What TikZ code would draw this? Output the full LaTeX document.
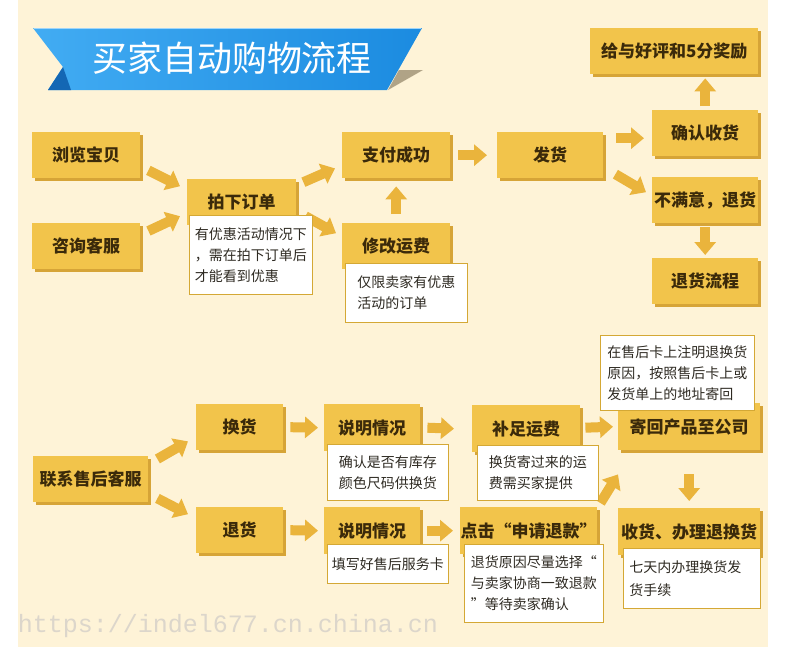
\documentclass[tikz,border=0pt]{standalone}
\usepackage{fontspec}
\newfontfamily\cjk{Noto Sans CJK SC}
\newfontfamily\wmfont{Liberation Mono}
\usetikzlibrary{arrows.meta,calc,shadows}
\definecolor{creamc}{HTML}{FEF3D7}
\definecolor{boxc}{HTML}{F2C44B}
\definecolor{shadc}{HTML}{D6A437}
\definecolor{arrc}{HTML}{EAB43C}
\definecolor{notec}{HTML}{D4A835}
\definecolor{labc}{HTML}{3B2A0A}
\definecolor{notetc}{HTML}{2E2A22}
\definecolor{wmc}{RGB}{220,214,203}
\definecolor{bannerl}{HTML}{42ACF3}
\definecolor{bannerr}{HTML}{1B8BE0}
\definecolor{bannerd}{HTML}{1467B4}
\definecolor{bannersh}{HTML}{B0A386}
\begin{document}
\begin{tikzpicture}[x=1pt,y=-1pt,
  ybox/.style={anchor=north west, fill=boxc, inner sep=0pt, text=labc,
    font=\cjk\bfseries\fontsize{17pt}{20pt}\selectfont,
    general shadow={fill=shadc, shadow xshift=3pt, shadow yshift=-3pt}},
  note/.style={anchor=north west, fill=white, draw=notec, line width=0.9pt,
    inner sep=0pt, align=left, text=notetc,
    font=\cjk\fontsize{14pt}{21pt}\selectfont},
  barrow/.style={draw=arrc, line width=10pt, -{Triangle[length=13pt,width=21pt]}}
]
\useasboundingbox (0,0) rectangle (790,656);
\fill[white] (0,0) rectangle (790,656);
\fill[creamc] (18,0) rectangle (768,647);

% banner
\fill[bannersh] (399,70) -- (423,70) -- (388,90) -- cycle;
\shade[left color=bannerl, right color=bannerr] (33,28) -- (422,28) -- (387,90) -- (48,90) -- (63,67) -- cycle;
\fill[bannerd] (48,90) -- (63,67) -- (71,90) -- cycle;
\draw[bannerl!50!white, line width=1pt] (34,28.5) -- (421,28.5);
\node[font=\cjk\fontsize{35pt}{40pt}\selectfont, text=white] (title) at (232,58) {买家自动购物流程};

% top flow boxes
\node[ybox, minimum width=108pt, minimum height=46pt] (liulan) at (32,132) {浏览宝贝};
\node[ybox, minimum width=108pt, minimum height=46pt] (zixun) at (32,223) {咨询客服};
\node[ybox, minimum width=109pt, minimum height=46pt] (paixia) at (187,179) {拍下订单};
\node[ybox, minimum width=108pt, minimum height=46pt] (zhifu) at (342,132) {支付成功};
\node[ybox, minimum width=108pt, minimum height=46pt] (xiugai) at (342,223) {修改运费};
\node[ybox, minimum width=106pt, minimum height=46pt] (fahuo) at (497,132) {发货};
\node[ybox, minimum width=168pt, minimum height=46pt] (haoping) at (590,28) {给与好评和5分奖励};
\node[ybox, minimum width=106pt, minimum height=46pt] (queren) at (652,110) {确认收货};
\node[ybox, minimum width=106pt, minimum height=46pt] (bumanyi) at (652,177) {不满意，退货};
\node[ybox, minimum width=106pt, minimum height=46pt] (tuiliu) at (652,258) {退货流程};

% bottom flow boxes
\node[ybox, minimum width=115pt, minimum height=46pt] (lianxi) at (33,456) {联系售后客服};
\node[ybox, minimum width=87pt, minimum height=46pt] (huanhuo) at (196,404) {换货};
\node[ybox, minimum width=87pt, minimum height=46pt] (tuihuo) at (196,507) {退货};
\node[ybox, minimum width=96pt, minimum height=47pt] (shuomingA) at (324,404) {说明情况};
\node[ybox, minimum width=96pt, minimum height=47pt] (shuomingB) at (324,507) {说明情况};
\node[ybox, minimum width=108pt, minimum height=47pt] (buzu) at (472,405) {补足运费};
\node[ybox, minimum width=142pt, minimum height=47pt] (jihui) at (618,403) {寄回产品至公司};
\node[ybox, minimum width=137pt, minimum height=47pt] (dianji) at (460,507) {点击“申请退款”};
\node[ybox, minimum width=142pt, minimum height=47pt] (shouhuo) at (618,508) {收货、办理退换货};

% top arrows
\draw[barrow] ($(liulan.south east)+(8,-8)$) -- ($(paixia.west)+(-7,-16)$);
\draw[barrow] ($(zixun.north east)+(8,8)$) -- ($(paixia.west)+(-7,14)$);
\draw[barrow] ($(paixia.east)+(7,-20)$) -- ($(zhifu.south west)+(-7,-10)$);
\draw[barrow] ($(paixia.east)+(9,14)$) -- ($(xiugai.west)+(-6,-13)$);
\draw[barrow] ($(xiugai.north)+(0,-9)$) -- ($(zhifu.south)+(0,8)$);
\draw[barrow] ($(zhifu.east)+(8,0)$) -- ($(fahuo.west)+(-10,0)$);
\draw[barrow] ($(fahuo.east)+(13,-17)$) -- ($(queren.west)+(-8,5)$);
\draw[barrow] ($(fahuo.east)+(12,19)$) -- ($(bumanyi.west)+(-6,-8)$);
\draw[barrow] ($(queren.north)+(0,-4)$) -- ($(queren.north |- haoping.south)+(0,4)$);
\draw[barrow] ($(bumanyi.south)+(0,4)$) -- ($(tuiliu.north)+(0,-3)$);

% bottom arrows
\draw[barrow] ($(lianxi.north east)+(9,3)$) -- ($(huanhuo.south west)+(-8,-9)$);
\draw[barrow] ($(lianxi.south east)+(9,-4)$) -- ($(tuihuo.west)+(-8,-16)$);
\draw[barrow] ($(huanhuo.east)+(7,0)$) -- ($(shuomingA.west)+(-6,0)$);
\draw[barrow] ($(shuomingA.east)+(7,0)$) -- ($(buzu.west)+(-18,0)$);
\draw[barrow] ($(tuihuo.east)+(7,0)$) -- ($(shuomingB.west)+(-6,0)$);
\draw[barrow] ($(shuomingB.east)+(7,0)$) -- ($(dianji.west)+(-7,0)$);
\draw[barrow] ($(buzu.east)+(5,-1)$) -- ($(jihui.west)+(-5,0)$);
\draw[barrow] ($(dianji.north east)+(3,-4)$) -- ($(jihui.south west)+(0,24)$);
\draw[barrow] ($(jihui.south)+(0,24)$) -- ($(shouhuo.north)+(0,-7)$);

% notes
\node[note, minimum width=123pt, minimum height=79pt] (n1) at (189,215) {有优惠活动情况下\\，需在拍下订单后\\才能看到优惠};
\node[note, minimum width=122pt, minimum height=59pt] (n2) at (345,263) {仅限卖家有优惠\\活动的订单};
\node[note, minimum width=154pt, minimum height=75pt] (n3) at (600,335) {在售后卡上注明退换货\\原因，按照售后卡上或\\发货单上的地址寄回};
\node[note, minimum width=121pt, minimum height=56pt] (n4) at (327,444) {确认是否有库存\\颜色尺码供换货};
\node[note, minimum width=121pt, minimum height=55pt] (n5) at (477,445) {换货寄过来的运\\费需买家提供};
\node[note, minimum width=121pt, minimum height=39pt] (n6) at (327,544) {填写好售后服务卡};
\node[note, minimum width=139pt, minimum height=78pt] (n7) at (464,544) {退货原因尽量选择“\\与卖家协商一致退款\\”等待卖家确认};
\node[note, minimum width=137pt, minimum height=60pt, text width=125pt, inner xsep=6pt, font=\cjk\fontsize{14pt}{23pt}\selectfont] (n8) at (623,548) {七天内办理换货发\\货手续};

% watermark
\node[font=\wmfont\fontsize{25pt}{28pt}\selectfont, text=wmc] (wm) at (228,626) {https://indel677.cn.china.cn};
\end{tikzpicture}
\end{document}
